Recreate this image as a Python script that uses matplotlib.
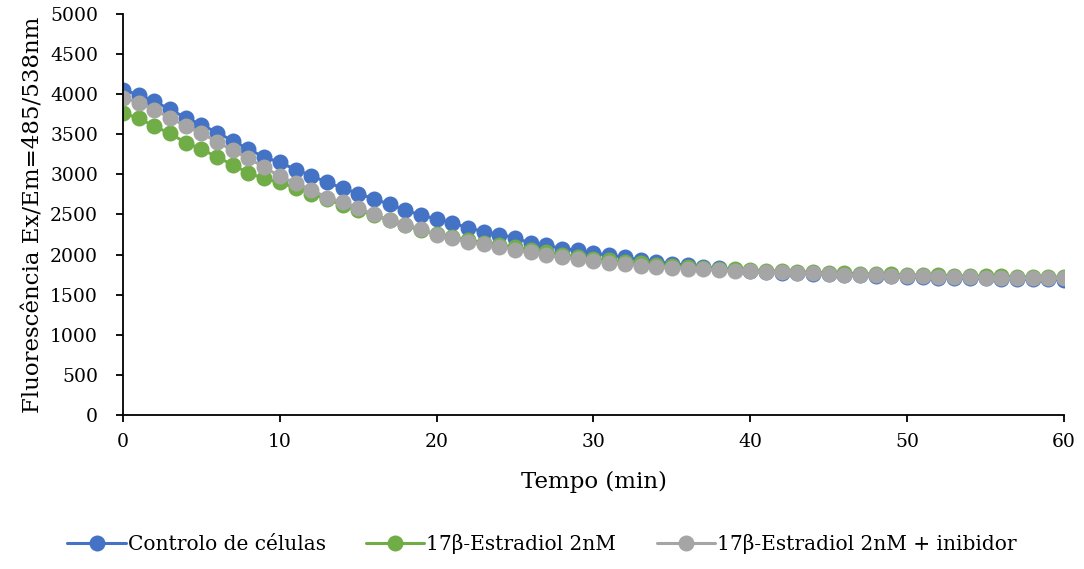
import numpy as np
import matplotlib
matplotlib.use("Agg")
import matplotlib.pyplot as plt

# Tempo (min)
tempo = list(range(0, 61))

controlo = [4050, 3995, 3910, 3810, 3705, 3620, 3520, 3420, 3315, 3215,
            3150, 3060, 2985, 2900, 2830, 2760, 2695, 2625, 2555, 2490,
            2445, 2395, 2335, 2285, 2250, 2210, 2140, 2115, 2075, 2055,
            2015, 1995, 1965, 1935, 1910, 1888, 1865, 1845, 1828, 1810,
            1797, 1785, 1775, 1768, 1760, 1752, 1745, 1740, 1735, 1728,
            1722, 1718, 1714, 1710, 1706, 1702, 1698, 1695, 1693, 1690,
            1688]

estradiol = [3765, 3700, 3600, 3510, 3395, 3315, 3215, 3120, 3015, 2950,
             2900, 2830, 2760, 2690, 2620, 2555, 2490, 2425, 2365, 2305,
             2255, 2215, 2180, 2150, 2120, 2090, 2060, 2030, 2000, 1975,
             1950, 1930, 1910, 1890, 1875, 1860, 1848, 1835, 1825, 1815,
             1808, 1800, 1793, 1786, 1780, 1773, 1767, 1762, 1757, 1752,
             1748, 1744, 1740, 1737, 1734, 1731, 1728, 1726, 1724, 1722,
             1720]

inibidor = [3955, 3895, 3805, 3705, 3600, 3515, 3405, 3300, 3200, 3090,
            2975, 2890, 2810, 2710, 2650, 2580, 2500, 2430, 2375, 2315,
            2250, 2205, 2157, 2129, 2100, 2058, 2026, 1993, 1964, 1943,
            1920, 1897, 1880, 1862, 1850, 1838, 1826, 1814, 1805, 1795,
            1790, 1784, 1778, 1772, 1766, 1758, 1750, 1746, 1742, 1736,
            1732, 1728, 1724, 1720, 1716, 1712, 1710, 1709, 1708, 1708,
            1707]

series = [
    ("Controlo de células", controlo, "#4472C4"),
    ("17β-Estradiol 2nM", estradiol, "#70AD47"),
    ("17β-Estradiol 2nM + inibidor", inibidor, "#A5A5A5"),
]

plt.rcParams['font.family'] = ['DejaVu Serif']

fig = plt.figure(figsize=(10.84, 5.69), dpi=100)
ax = fig.add_axes([0.1135, 0.2707, 0.868, 0.7047])

for nome, valores, cor in series:
    ax.plot(tempo, valores, color=cor, lw=2.2, marker='o', markersize=11.5,
            markeredgewidth=0, label=nome, solid_capstyle='round')

ax.set_xlim(0, 60)
ax.set_ylim(0, 5000)
ax.set_xticks(range(0, 61, 10))
ax.set_yticks(range(0, 5001, 500))

for s in ['top', 'right']:
    ax.spines[s].set_visible(False)
for s in ['left', 'bottom']:
    ax.spines[s].set_linewidth(1.3)
ax.tick_params(axis='both', direction='out', length=5, width=1.3,
               labelsize=13.5, colors='black')
ax.tick_params(axis='x', pad=8)
ax.tick_params(axis='y', pad=13)

ax.set_xlabel('Tempo (min)', fontsize=16.5, labelpad=14)
ax.set_ylabel('Fluorescência Ex/Em=485/538nm', fontsize=16.5, labelpad=4)

fig.legend(loc='lower center', ncol=3, frameon=False, fontsize=14.5,
           bbox_to_anchor=(0.5, -0.005), handlelength=2.9, columnspacing=2.0,
           handletextpad=0.1)

fig.savefig('out.png', dpi=100)
